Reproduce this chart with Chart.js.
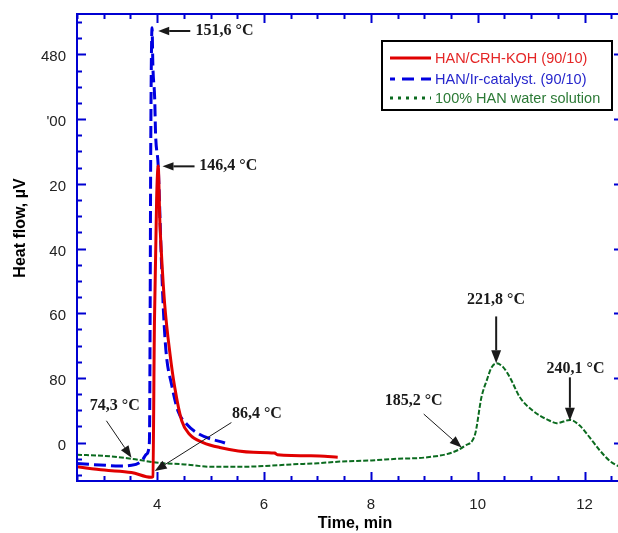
<!DOCTYPE html>
<html>
<head>
<meta charset="utf-8">
<script src="https://cdn.jsdelivr.net/npm/chart.js@4.4.1/dist/chart.umd.min.js"></script>
<style>
html, body { margin: 0; padding: 0; background: #fff; width: 618px; height: 533px; overflow: hidden; }
#wrap { width: 624px; height: 533px; }
</style>
</head>
<body>
<div id="wrap"><canvas id="c" width="624" height="533"></canvas></div>
<script>
// heat flow curves (time in min, heat flow in uV)
var crhTime = [2.5, 3.01, 3.52, 3.89, 3.92, 3.95, 3.99, 4.02, 4.05, 4.08, 4.14, 4.24, 4.33, 4.46, 4.61, 4.86, 5.17, 5.8, 6.2, 6.25, 7.04, 7.38];
var crhFlow = [-30, -34, -37, -43, -42, 150, 300, 342, 275, 234, 172, 110, 68, 27, 10, 0, -6, -12, -13, -15, -16.5, -18];

var irTime = [2.5, 2.93, 3.3, 3.52, 3.71, 3.8, 3.85, 3.86, 3.87, 3.88, 3.905, 3.92, 3.955, 3.97, 4.02, 4.05, 4.08, 4.12, 4.17, 4.27, 4.39, 4.55, 4.8, 5.27];
var irFlow = [-26, -27.7, -28.9, -28.1, -22.7, -14.4, -4, 27, 176, 362, 513, 466, 424, 383, 342, 285, 225, 160, 110, 72, 39, 23, 10, -0.5];

var hanTime = [2.5, 3.02, 3.52, 4.02, 4.52, 5.02, 5.51, 6.01, 6.51, 7.01, 7.42, 8.01, 8.51, 9.01, 9.51, 9.76, 9.95, 10.07, 10.17, 10.26, 10.35, 10.48, 10.6, 10.79, 11.04, 11.35, 11.48, 11.73, 11.91, 12.1, 12.29, 12.48, 12.63, 12.72];
var hanFlow = [-15, -16.5, -20, -25, -27, -30, -30, -29, -27, -25.5, -23.5, -22, -20, -18.5, -12.5, -4, 10, 56, 77, 93, 98, 93, 81, 56, 39, 27, 24, 28, 21, 6, -10, -23, -29, -31];

var seriesNames = ['HAN/CRH-KOH (90/10)', 'HAN/Ir-catalyst. (90/10)', '100% HAN water solution'];

var xTicks = [4, 6, 8, 10, 12];
var xTickLabels = ['4', '6', '8', '10', '12'];
var yTicks = [0, 80, 160, 240, 320, 400, 480];
var yTickLabels = ['0', '80', '60', '40', '20', "'00", '480'];

// temperature notes: text spot, arrow start, arrow tip (in axis units)
var notes = [
    { text: '151,6 °C', tx: 4.72, ty: 509, x1: 4.62, y1: 509, x2: 4.02, y2: 509, w: 2, head: 11 },
    { text: '146,4 °C', tx: 4.79, ty: 341.6, x1: 4.70, y1: 341.6, x2: 4.10, y2: 341.6, w: 2, head: 11 },
    { text: '74,3 °C', tx: 2.74, ty: 45.6, x1: 3.05, y1: 27, x2: 3.52, y2: -18.6, w: 1, head: 12 },
    { text: '86,4 °C', tx: 5.40, ty: 35.3, x1: 5.39, y1: 24.8, x2: 3.955, y2: -35.2, w: 1, head: 12 },
    { text: '185,2 °C', tx: 8.26, ty: 51.8, x1: 8.99, y1: 35.3, x2: 9.70, y2: -6.2, w: 1, head: 12 },
    { text: '221,8 °C', tx: 9.80, ty: 176, x1: 10.346, y1: 156, x2: 10.346, y2: 98, w: 2, head: 13 },
    { text: '240,1 °C', tx: 11.29, ty: 91.2, x1: 11.726, y1: 80.7, x2: 11.726, y2: 27, w: 2, head: 13 }
];

var axisBlue = '#0000d2';

function toPoints(xs, ys) {
    return xs.map(function (x, i) { return { x: x, y: ys[i] }; });
}

function arrow(ctx, x1, y1, x2, y2, w, head) {
    var ang = Math.atan2(y2 - y1, x2 - x1);
    var bx = x2 - head * Math.cos(ang), by = y2 - head * Math.sin(ang);
    ctx.lineWidth = w;
    ctx.beginPath();
    ctx.moveTo(x1, y1);
    ctx.lineTo(bx, by);
    ctx.stroke();
    var hw = head * 0.38;
    ctx.beginPath();
    ctx.moveTo(x2, y2);
    ctx.lineTo(bx + hw * Math.sin(ang), by - hw * Math.cos(ang));
    ctx.lineTo(bx - hw * Math.sin(ang), by + hw * Math.cos(ang));
    ctx.closePath();
    ctx.fill();
}

var framePlugin = {
    id: 'frame',
    afterDatasetsDraw: function (chart) {
        var ctx = chart.ctx, a = chart.chartArea;
        var xs = chart.scales.x, ys = chart.scales.y;
        ctx.save();
        ctx.strokeStyle = axisBlue;
        ctx.lineWidth = 2;
        ctx.strokeRect(a.left, a.top, a.right - a.left, a.bottom - a.top);
        ctx.beginPath();
        for (var v = 2.5; v <= xs.max; v += 0.5) {
            var px = Math.round(xs.getPixelForValue(v)) + 0.5;
            var len = (v % 2 === 0) ? 9 : 5;
            ctx.moveTo(px, a.bottom); ctx.lineTo(px, a.bottom - len);
            ctx.moveTo(px, a.top); ctx.lineTo(px, a.top + len);
        }
        for (var u = -40; u <= ys.max; u += 20) {
            var py = Math.round(ys.getPixelForValue(u)) + 0.5;
            var ln = (u % 80 === 0) ? 9 : 5;
            ctx.moveTo(a.left, py); ctx.lineTo(a.left + ln, py);
            ctx.moveTo(a.right, py); ctx.lineTo(a.right - ln, py);
        }
        ctx.stroke();

        // tick labels
        ctx.fillStyle = '#222';
        ctx.font = '15px "Liberation Sans", Arial, sans-serif';
        ctx.textAlign = 'center';
        ctx.textBaseline = 'alphabetic';
        xTicks.forEach(function (t, i) {
            ctx.fillText(xTickLabels[i], xs.getPixelForValue(t), 509);
        });
        ctx.textAlign = 'right';
        yTicks.forEach(function (t, i) {
            ctx.fillText(yTickLabels[i], 66, ys.getPixelForValue(t) + 7);
        });

        // axis titles
        ctx.fillStyle = '#000';
        ctx.font = 'bold 16px "Liberation Sans", Arial, sans-serif';
        ctx.textAlign = 'center';
        ctx.fillText('Time, min', 355, 528);
        ctx.save();
        ctx.translate(25, 228);
        ctx.rotate(-Math.PI / 2);
        ctx.fillText('Heat flow, µV', 0, 0);
        ctx.restore();

        // temperature notes
        ctx.fillStyle = '#1a1a1a';
        ctx.strokeStyle = '#1a1a1a';
        ctx.font = 'bold 16px "Liberation Serif", "Times New Roman", serif';
        ctx.textAlign = 'left';
        ctx.textBaseline = 'middle';
        notes.forEach(function (n) {
            ctx.fillText(n.text, xs.getPixelForValue(n.tx), ys.getPixelForValue(n.ty));
            arrow(ctx, xs.getPixelForValue(n.x1), ys.getPixelForValue(n.y1),
                xs.getPixelForValue(n.x2), ys.getPixelForValue(n.y2), n.w, n.head);
        });

        // legend box
        var bx = 382, by = 41, bw = 230, bh = 69;
        ctx.fillStyle = '#fff';
        ctx.fillRect(bx, by, bw, bh);
        ctx.strokeStyle = '#000';
        ctx.lineWidth = 2;
        ctx.strokeRect(bx, by, bw, bh);
        var rowY = [58, 79, 98];
        var textCols = ['#e42626', '#2626cc', '#2c7a36'];
        var sampleDash = [[], [12, 7], [3, 5]];
        ctx.font = '14.5px "Liberation Sans", Arial, sans-serif';
        chart.data.datasets.forEach(function (ds, i) {
            ctx.strokeStyle = ds.borderColor;
            ctx.lineWidth = 3;
            ctx.setLineDash(sampleDash[i]);
            ctx.lineDashOffset = i === 1 ? -12 : 0;
            ctx.beginPath();
            ctx.moveTo(390, rowY[i]);
            ctx.lineTo(431, rowY[i]);
            ctx.stroke();
            ctx.setLineDash([]);
            ctx.fillStyle = textCols[i];
            ctx.fillText(ds.label, 435, rowY[i] + 1);
        });
        ctx.restore();
    }
};

var chart = new Chart(document.getElementById('c'), {
    type: 'line',
    data: {
        datasets: [
            {
                label: seriesNames[0],
                data: toPoints(crhTime, crhFlow),
                borderColor: '#e00000',
                borderWidth: 3,
                pointRadius: 0,
                cubicInterpolationMode: 'monotone',
                fill: false
            },
            {
                label: seriesNames[1],
                data: toPoints(irTime, irFlow),
                borderColor: '#0000e0',
                borderWidth: 3,
                borderDash: [12, 5],
                pointRadius: 0,
                cubicInterpolationMode: 'monotone',
                fill: false
            },
            {
                label: seriesNames[2],
                data: toPoints(hanTime, hanFlow),
                borderColor: '#0b6b1f',
                borderWidth: 2,
                borderDash: [5, 2],
                pointRadius: 0,
                cubicInterpolationMode: 'monotone',
                fill: false
            }
        ]
    },
    options: {
        responsive: false,
        animation: false,
        layout: { padding: { left: 77, top: 14, right: 1, bottom: 52 } },
        plugins: { legend: { display: false }, tooltip: { enabled: false } },
        scales: {
            x: { type: 'linear', min: 2.5, max: 12.72, display: false },
            y: { type: 'linear', min: -47.5, max: 530, display: false }
        }
    },
    plugins: [framePlugin]
});
</script>
</body>
</html>
